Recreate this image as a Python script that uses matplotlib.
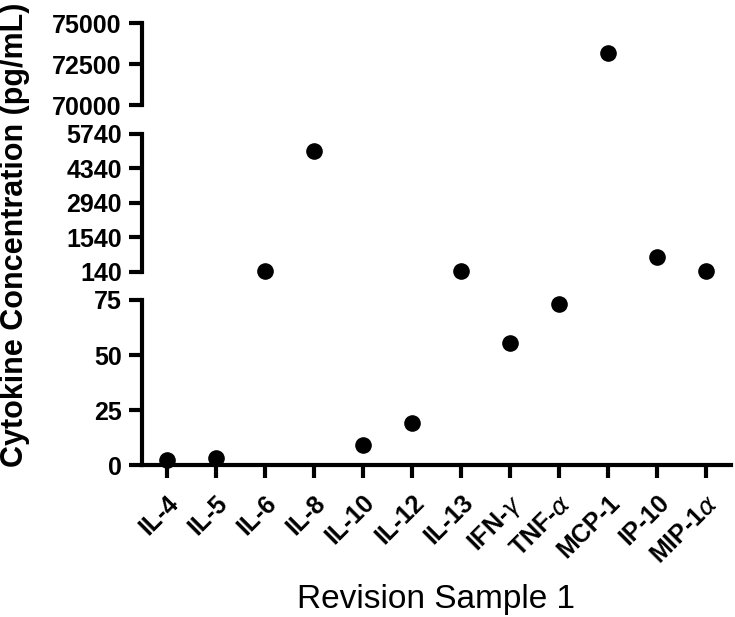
import matplotlib
matplotlib.use('Agg')
import matplotlib.pyplot as plt

plt.rcParams['font.family'] = ['Liberation Sans', 'DejaVu Sans']

# data
cytokines = ['IL-4', 'IL-5', 'IL-6', 'IL-8', 'IL-10', 'IL-12', 'IL-13',
             'IFN-$\\gamma$', 'TNF-$\\alpha$', 'MCP-1', 'IP-10', 'MIP-1$\\alpha$']
conc = [2.3, 3.2, 160, 5050, 9.1, 19.3, 180, 55.5, 73.3, 73170, 750, 195]

# broken axis segments (bottom, middle, top)
seg_lims = [(0, 75), (140, 5740), (70000, 75000)]
seg_ticks = [[0, 25, 50, 75], [140, 1540, 2940, 4340, 5740], [70000, 72500, 75000]]
# figure fraction boxes for each segment
seg_boxes = [[0.1932, 0.2463, 0.8007, 0.2675],
             [0.1932, 0.5592, 0.8007, 0.2237],
             [0.1932, 0.8298, 0.8007, 0.1329]]

fig = plt.figure(figsize=(7.35, 6.17), dpi=100)
lw = 3
x = list(range(len(cytokines)))

axes = []
for i in range(3):
    ax = fig.add_axes(seg_boxes[i])
    lo, hi = seg_lims[i]
    xs = [xi for xi, v in zip(x, conc) if lo <= v <= hi]
    ys = [v for v in conc if lo <= v <= hi]
    ax.scatter(xs, ys, s=120, color='black', zorder=5, clip_on=False)
    ax.set_ylim(lo, hi)
    ax.set_xlim(-0.5, 11.5)
    ax.set_yticks(seg_ticks[i])
    ax.set_yticklabels([str(t) for t in seg_ticks[i]], fontsize=18, fontweight='bold')
    for s in ['top', 'right']:
        ax.spines[s].set_visible(False)
    ax.spines['left'].set_linewidth(lw)
    ax.tick_params(axis='y', length=9.5, width=lw, pad=5)
    if i > 0:
        ax.spines['bottom'].set_visible(False)
        ax.set_xticks([])
    else:
        ax.spines['bottom'].set_linewidth(lw)
        ax.set_xticks(x)
        ax.set_xticklabels(cytokines, rotation=45, ha='right', rotation_mode='anchor',
                           fontsize=18, fontweight='bold')
        ax.tick_params(axis='x', length=9.5, width=lw, pad=9)
        ax.set_xlabel('Revision Sample 1', fontsize=24, labelpad=12)
    axes.append(ax)

fig.text(0.021, 0.62, 'Cytokine Concentration (pg/mL)', rotation=90, ha='center', va='center',
         fontsize=22, fontweight='bold')

fig.savefig('out.png', dpi=100)
